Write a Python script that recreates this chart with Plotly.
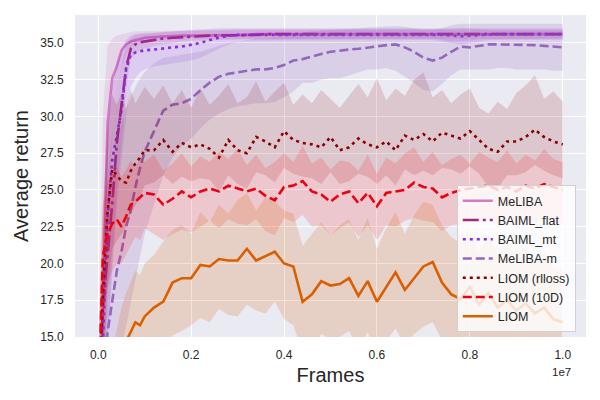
import plotly.graph_objects as go

# frames, in units of 1e7 (the axis carries the "1e7" offset label)
FRAMES = [
    0.0, 0.01, 0.02, 0.03, 0.04, 0.05, 0.06, 0.07, 0.08, 0.09, 0.10,
    0.12, 0.14, 0.16, 0.18, 0.20, 0.22, 0.24, 0.26, 0.28,
    0.30, 0.32, 0.34, 0.36, 0.38, 0.40, 0.42, 0.44, 0.46,
    0.48, 0.50, 0.52, 0.54, 0.56, 0.58, 0.60, 0.62, 0.64,
    0.66, 0.68, 0.70, 0.72, 0.74, 0.76, 0.78, 0.80, 0.82,
    0.84, 0.86, 0.88, 0.90, 0.92, 0.94, 0.96, 0.98, 1.00,
]

# --- MeLIBA ---
MELIBA = [
    5, 18.0, 29.5, 32.6, 33.4, 34.5, 34.9, 35.1, 35.2, 35.3, 35.35,
    35.4, 35.45, 35.45, 35.5, 35.5, 35.5, 35.5, 35.55, 35.55,
    35.55, 35.55, 35.6, 35.6, 35.6, 35.6, 35.6, 35.6, 35.6,
    35.6, 35.6, 35.6, 35.6, 35.6, 35.6, 35.6, 35.6, 35.6,
    35.6, 35.6, 35.6, 35.6, 35.6, 35.6, 35.6, 35.6, 35.6,
    35.6, 35.6, 35.6, 35.6, 35.6, 35.6, 35.6, 35.6, 35.6,
]
MELIBA_HI = [
    10, 30.0, 34.8, 35.3, 35.5, 35.6, 35.7, 35.75, 35.8, 35.8, 35.8,
    35.8, 35.85, 35.85, 35.85, 35.9, 35.9, 35.9, 35.9, 35.9,
    35.9, 35.9, 35.9, 35.9, 35.9, 35.9, 35.9, 35.9, 35.9,
    35.9, 35.9, 35.9, 35.9, 35.9, 35.9, 35.9, 35.9, 35.9,
    35.9, 35.9, 35.9, 35.9, 35.9, 35.9, 35.9, 35.9, 35.9,
    35.9, 35.9, 35.9, 35.9, 35.9, 35.9, 35.9, 35.9, 35.9,
]
MELIBA_LO = [
    2, 8.0, 20.0, 29.0, 31.5, 33.3, 34.2, 34.7, 34.9, 35.0, 35.1,
    35.15, 35.2, 35.2, 35.2, 35.25, 35.25, 35.3, 35.3, 35.3,
    35.3, 35.3, 35.3, 35.3, 35.3, 35.3, 35.3, 35.3, 35.3,
    35.3, 35.3, 35.3, 35.3, 35.3, 35.3, 35.3, 35.3, 35.3,
    35.3, 35.3, 35.3, 35.3, 35.3, 35.3, 35.3, 35.3, 35.3,
    35.3, 35.3, 35.3, 35.3, 35.3, 35.3, 35.3, 35.3, 35.3,
]

# --- BAIML_flat ---
BAIML_FLAT = [
    8, 17.0, 20.5, 24.0, 28.2, 30.8, 33.3, 34.6, 34.9, 35.05, 35.1,
    35.25, 35.3, 35.35, 35.4, 35.45, 35.45, 35.5, 35.5, 35.5,
    35.55, 35.55, 35.55, 35.6, 35.6, 35.6, 35.6, 35.6, 35.6,
    35.6, 35.6, 35.6, 35.6, 35.6, 35.6, 35.6, 35.6, 35.6,
    35.6, 35.6, 35.6, 35.6, 35.6, 35.6, 35.6, 35.6, 35.6,
    35.6, 35.6, 35.6, 35.6, 35.6, 35.6, 35.6, 35.6, 35.6,
]
BAIML_FLAT_HI = [
    10, 22.0, 26.0, 29.0, 31.5, 33.5, 34.8, 35.3, 35.5, 35.6, 35.6,
    35.7, 35.75, 35.8, 35.8, 35.8, 35.85, 35.85, 35.85, 35.9,
    35.9, 35.9, 35.9, 35.9, 35.9, 35.9, 35.9, 35.9, 35.9,
    35.9, 35.9, 35.9, 35.9, 35.9, 35.9, 35.9, 35.9, 35.9,
    35.9, 35.9, 35.9, 35.9, 35.9, 35.95, 36.0, 36.0, 35.95,
    35.9, 35.9, 35.9, 35.9, 35.9, 35.9, 35.9, 35.9, 35.9,
]
BAIML_FLAT_LO = [
    6, 12.0, 15.0, 19.0, 25.0, 28.0, 31.8, 33.9, 34.3, 34.5, 34.6,
    34.8, 34.9, 35.0, 35.1, 35.15, 35.15, 35.2, 35.2, 35.2,
    35.25, 35.25, 35.3, 35.3, 35.3, 35.3, 35.3, 35.3, 35.3,
    35.3, 35.3, 35.3, 35.3, 35.3, 35.3, 35.3, 35.3, 35.3,
    35.3, 35.3, 35.3, 35.3, 35.2, 35.1, 35.1, 35.15, 35.25,
    35.3, 35.3, 35.3, 35.3, 35.3, 35.3, 35.3, 35.3, 35.3,
]

# --- BAIML_mt ---
BAIML_MT = [
    6, 14.0, 23.0, 27.0, 28.8, 30.4, 33.2, 34.2, 34.35, 34.45, 34.5,
    34.55, 34.65, 34.7, 34.75, 34.85, 35.0, 35.2, 35.35, 35.5,
    35.55, 35.55, 35.6, 35.6, 35.6, 35.6, 35.6, 35.6, 35.6,
    35.6, 35.6, 35.6, 35.6, 35.6, 35.6, 35.6, 35.6, 35.6,
    35.6, 35.6, 35.6, 35.6, 35.55, 35.5, 35.45, 35.5, 35.55,
    35.6, 35.6, 35.6, 35.6, 35.6, 35.6, 35.6, 35.6, 35.6,
]
BAIML_MT_HI = [
    9, 20.0, 29.0, 32.0, 33.6, 34.5, 35.2, 35.5, 35.6, 35.65, 35.7,
    35.7, 35.75, 35.75, 35.8, 35.85, 35.9, 35.95, 36.0, 36.0,
    36.0, 36.0, 36.0, 36.0, 36.0, 36.0, 36.0, 36.0, 36.0,
    36.0, 36.0, 36.0, 36.0, 36.0, 36.0, 36.0, 36.0, 36.0,
    36.0, 36.0, 36.0, 36.0, 36.0, 36.0, 36.0, 36.0, 36.0,
    36.0, 36.0, 36.0, 36.0, 36.0, 36.0, 36.0, 36.0, 36.0,
]
BAIML_MT_LO = [
    3, 8.0, 15.0, 20.0, 24.0, 27.0, 30.0, 32.0, 32.6, 33.0, 33.2,
    33.4, 33.5, 33.6, 33.7, 33.8, 34.0, 34.3, 34.6, 34.9,
    35.1, 35.15, 35.2, 35.2, 35.2, 35.2, 35.2, 35.2, 35.2,
    35.2, 35.2, 35.2, 35.2, 35.2, 35.2, 35.2, 35.2, 35.2,
    35.2, 35.2, 35.2, 35.2, 35.1, 35.0, 34.9, 35.0, 35.1,
    35.2, 35.2, 35.2, 35.2, 35.2, 35.2, 35.2, 35.2, 35.2,
]

# --- MeLIBA-m ---
MELIBA_M = [
    5, 12.0, 15.3, 17.5, 19.5, 20.8, 22.5, 23.6, 25.2, 26.5, 27.6,
    29.0, 30.4, 30.8, 30.9, 31.2, 31.8, 32.3, 32.7, 32.9,
    33.0, 33.1, 33.2, 33.2, 33.3, 33.5, 33.8, 33.9, 34.1,
    34.25, 34.4, 34.5, 34.55, 34.6, 34.7, 34.75, 34.85, 34.9,
    34.7, 34.4, 34.0, 33.8, 34.0, 34.4, 34.75, 34.7, 34.8,
    34.9, 34.9, 34.9, 34.9, 34.85, 34.85, 34.8, 34.75, 34.7,
]
MELIBA_M_HI = [
    8, 19.0, 23.0, 26.0, 28.0, 29.5, 30.5, 31.3, 32.0, 32.6, 33.0,
    33.6, 34.0, 34.1, 34.2, 34.3, 34.4, 34.6, 34.8, 35.0,
    35.1, 35.2, 35.3, 35.3, 35.4, 35.5, 35.6, 35.7, 35.8,
    35.85, 35.9, 35.95, 36.0, 36.0, 36.05, 36.1, 36.1, 36.15,
    36.1, 36.0, 35.9, 35.9, 36.0, 36.2, 36.3, 36.3, 36.3,
    36.3, 36.3, 36.3, 36.3, 36.3, 36.3, 36.3, 36.3, 36.3,
]
MELIBA_M_LO = [
    2, 6.0, 9.0, 11.0, 13.0, 14.5, 16.0, 17.5, 19.0, 20.5, 22.0,
    24.0, 26.0, 27.2, 28.0, 28.5, 29.2, 29.8, 30.2, 30.5,
    30.7, 30.8, 30.9, 30.9, 31.0, 31.3, 31.7, 32.3, 32.3,
    32.5, 32.6, 32.6, 32.8, 33.0, 33.2, 33.2, 33.3, 33.1,
    32.7, 32.3, 31.8, 31.7, 32.2, 32.8, 33.2, 33.2, 33.2,
    33.2, 33.3, 33.3, 33.2, 33.2, 33.2, 33.2, 33.1, 33.1,
]

# --- LIOM (rlloss) ---
LIOM_RLLOSS = [
    10, 18.0, 23.5, 26.4, 26.0, 25.6, 25.5, 26.3, 26.8, 27.2, 27.7,
    27.7, 28.4, 27.6, 28.2, 27.9, 28.1, 27.8, 27.2, 28.4,
    27.7, 27.5, 28.6, 28.3, 27.9, 29.0, 28.4, 28.2, 28.1,
    27.9, 28.6, 27.7, 27.9, 28.5, 28.1, 27.9, 28.3, 27.7,
    28.7, 28.4, 28.8, 28.3, 28.9, 28.7, 28.5, 29.0, 28.4,
    27.8, 27.6, 28.3, 28.3, 28.6, 29.1, 28.6, 28.3, 28.1,
]
LIOM_RLLOSS_HI = [
    14, 24.0, 29.0, 31.5, 30.8, 31.6, 30.5, 31.8, 30.9, 31.5, 32.0,
    31.2, 32.1, 30.9, 31.8, 30.6, 31.9, 30.8, 31.4, 32.2,
    30.9, 31.3, 32.4, 31.0, 31.7, 32.3, 30.8, 31.5, 30.9,
    31.8, 31.2, 30.6, 31.4, 32.2, 31.3, 32.6, 31.1, 31.9,
    31.4, 32.5, 33.0, 31.3, 31.8, 30.9, 31.5, 31.9, 30.6,
    30.2, 31.0, 30.5, 31.6, 32.1, 32.8, 31.2, 31.7, 31.0,
]
LIOM_RLLOSS_LO = [
    6, 13.0, 18.0, 21.0, 21.5, 22.0, 22.5, 23.4, 23.9, 24.5, 25.3,
    25.5, 26.0, 25.4, 25.9, 25.6, 25.8, 25.7, 24.9, 26.0,
    25.4, 25.1, 26.2, 26.0, 25.5, 26.5, 26.1, 25.9, 25.8,
    25.4, 26.2, 25.4, 25.6, 26.1, 25.9, 25.4, 26.0, 25.3,
    26.4, 26.0, 26.3, 26.0, 26.5, 26.4, 26.1, 26.6, 26.1,
    25.2, 25.1, 26.0, 26.0, 26.2, 26.7, 26.3, 26.0, 25.8,
]

# --- LIOM (10D) ---
LIOM_10D = [
    10, 20.5, 22.0, 22.7, 23.0, 22.5, 23.2, 24.0, 24.2, 24.5, 24.8,
    24.7, 24.0, 24.4, 24.9, 24.5, 24.9, 25.1, 24.9, 25.3,
    25.1, 24.9, 25.1, 24.6, 24.3, 25.2, 25.3, 25.6, 24.9,
    24.7, 24.2, 24.7, 24.9, 24.1, 24.8, 23.9, 24.8, 24.9,
    25.0, 25.5, 25.2, 25.1, 24.5, 24.8, 25.0, 25.1, 25.2,
    25.3, 25.0, 25.2, 24.9, 25.3, 25.1, 25.4, 25.2, 25.0,
]
LIOM_10D_HI = [
    13, 24.0, 25.5, 26.2, 26.6, 25.9, 26.4, 27.0, 26.5, 27.2, 26.9,
    27.4, 26.3, 26.8, 27.5, 26.6, 27.3, 26.9, 27.6, 27.1,
    27.8, 26.7, 27.4, 26.5, 26.9, 27.5, 26.9, 28.0, 26.8,
    27.2, 26.4, 27.0, 26.9, 26.3, 27.4, 26.1, 27.2, 26.8,
    27.5, 27.9, 26.9, 27.6, 26.7, 27.1, 27.4, 26.8, 27.6,
    27.2, 26.9, 27.7, 26.8, 27.4, 27.0, 27.8, 27.1, 26.9,
]
LIOM_10D_LO = [
    7, 16.0, 18.5, 19.5, 20.0, 20.0, 20.6, 21.2, 21.8, 21.6, 22.4,
    22.0, 21.6, 22.0, 22.3, 22.1, 22.5, 22.9, 22.4, 23.0,
    22.7, 22.6, 23.0, 22.2, 21.9, 23.1, 22.8, 23.3, 22.5,
    22.6, 21.9, 22.4, 22.8, 21.8, 22.6, 21.6, 22.6, 22.5,
    22.9, 23.1, 22.9, 22.8, 22.2, 22.6, 22.7, 22.9, 22.8,
    23.1, 22.6, 22.9, 22.5, 23.0, 22.8, 23.1, 22.8, 22.7,
]

# --- LIOM ---
LIOM = [
    5, 7.0, 9.0, 10.5, 12.0, 13.5, 14.7, 15.3, 16.0, 15.8, 16.4,
    17.0, 17.4, 18.7, 19.0, 19.0, 19.9, 19.8, 20.3, 20.2,
    20.2, 21.0, 20.2, 20.5, 20.8, 20.0, 19.8, 17.4, 17.9,
    18.8, 18.5, 18.6, 19.0, 17.8, 18.8, 17.4, 18.4, 19.4,
    18.2, 19.0, 19.8, 20.1, 18.7, 17.9, 17.6, 18.4, 17.2,
    18.0, 17.0, 17.5, 16.8, 17.3, 16.6, 17.0, 16.2, 16.0,
]
LIOM_HI = [
    7, 10.0, 12.0, 14.0, 15.5, 17.0, 18.0, 18.8, 19.5, 19.2, 20.0,
    20.6, 21.5, 22.3, 22.6, 22.0, 23.5, 22.8, 24.0, 23.4,
    24.3, 24.8, 23.6, 24.5, 24.2, 23.6, 23.4, 21.2, 22.0,
    22.8, 21.9, 22.6, 23.0, 21.6, 23.1, 21.0, 22.4, 23.5,
    22.0, 23.3, 24.2, 24.0, 22.6, 21.8, 21.4, 22.3, 20.8,
    22.0, 20.6, 21.4, 20.5, 21.2, 20.1, 20.8, 19.8, 19.6,
]
LIOM_LO = [
    3, 4.0, 6.0, 7.0, 8.5, 10.0, 11.4, 11.8, 12.5, 12.4, 12.8,
    13.4, 13.3, 15.1, 15.4, 15.8, 16.3, 16.0, 16.9, 16.5,
    16.4, 17.2, 16.8, 16.6, 17.4, 16.2, 15.8, 13.9, 14.0,
    15.2, 14.8, 15.0, 15.4, 14.2, 15.3, 13.6, 14.7, 15.6,
    14.4, 15.2, 15.7, 16.0, 14.8, 14.0, 13.6, 14.5, 13.5,
    14.2, 13.3, 13.7, 13.0, 13.5, 12.9, 13.3, 12.5, 12.4,
]

Y_TICKS = [15.0, 17.5, 20.0, 22.5, 25.0, 27.5, 30.0, 32.5, 35.0]
X_TICKS = [0.0, 0.2, 0.4, 0.6, 0.8, 1.0]

# name, mean, upper, lower, line colour, band colour, dash
SERIES = [
    ("MeLIBA", MELIBA, MELIBA_HI, MELIBA_LO, "#d17cc4", "rgba(209,124,196,0.2)", "solid"),
    ("BAIML_flat", BAIML_FLAT, BAIML_FLAT_HI, BAIML_FLAT_LO, "#a3287f", "rgba(163,40,127,0.12)", "16px,4px,3px,4px"),
    ("BAIML_mt", BAIML_MT, BAIML_MT_HI, BAIML_MT_LO, "#8a2be2", "rgba(138,43,226,0.15)", "3px,4px"),
    ("MeLIBA-m", MELIBA_M, MELIBA_M_HI, MELIBA_M_LO, "#9467bd", "rgba(148,103,189,0.2)", "9px,4px"),
    ("LIOM (rlloss)", LIOM_RLLOSS, LIOM_RLLOSS_HI, LIOM_RLLOSS_LO, "#8b0000", "rgba(139,0,0,0.15)", "3px,4px"),
    ("LIOM (10D)", LIOM_10D, LIOM_10D_HI, LIOM_10D_LO, "#ee0011", "rgba(255,0,0,0.15)", "9px,4px"),
    ("LIOM", LIOM, LIOM_HI, LIOM_LO, "#d95f02", "rgba(217,95,2,0.18)", "solid"),
]

for name, mean, hi, lo, _, _, _ in SERIES:
    assert len(mean) == len(hi) == len(lo) == len(FRAMES), name

TEXT = "#262626"
FONT = "Liberation Sans, Arial, sans-serif"

fig = go.Figure()

for name, mean, hi, lo, color, band, dash in SERIES:
    # shaded spread, drawn as one closed polygon
    fig.add_trace(
        go.Scatter(
            x=FRAMES + FRAMES[::-1],
            y=hi + lo[::-1],
            fill="toself",
            fillcolor=band,
            line=dict(width=0),
            mode="lines",
            hoverinfo="skip",
            showlegend=False,
            legendgroup=name,
        )
    )
    fig.add_trace(
        go.Scatter(
            x=FRAMES,
            y=mean,
            mode="lines",
            name=name,
            legendgroup=name,
            line=dict(color=color, width=2.6, dash=dash),
        )
    )

# the page body keeps its 8px default margin, so the figure is 8px smaller
fig.update_layout(
    width=592,
    height=392,
    margin=dict(l=67, r=14, t=7, b=63),
    paper_bgcolor="white",
    plot_bgcolor="#eaeaf2",
    font=dict(family=FONT, color=TEXT, size=12),
    legend=dict(
        x=0.98,
        y=0.015,
        xanchor="right",
        yanchor="bottom",
        bgcolor="rgba(255,255,255,0.8)",
        bordercolor="#d0d0d0",
        borderwidth=1,
        font=dict(size=12.5, color=TEXT),
        tracegroupgap=0,
    ),
    annotations=[
        dict(
            text="1e7",
            x=0.975,
            y=-0.108,
            xref="paper",
            yref="paper",
            xanchor="right",
            yanchor="middle",
            showarrow=False,
            font=dict(size=11.5, color=TEXT),
        )
    ],
)

fig.update_xaxes(
    range=[-0.05, 1.05],
    tickvals=X_TICKS,
    tickformat=".1f",
    showgrid=True,
    gridcolor="white",
    gridwidth=1.2,
    zeroline=False,
    showline=False,
    ticks="outside",
    ticklen=7,
    tickcolor="rgba(0,0,0,0)",
    automargin=False,
    tickfont=dict(size=12, color=TEXT),
    title=dict(text="Frames", font=dict(size=20, color=TEXT), standoff=6),
)
fig.update_yaxes(
    range=[15, 36.9],
    tickvals=Y_TICKS,
    tickformat=".1f",
    showgrid=True,
    gridcolor="white",
    gridwidth=1.2,
    zeroline=False,
    showline=False,
    ticks="outside",
    ticklen=8,
    tickcolor="rgba(0,0,0,0)",
    automargin=False,
    tickfont=dict(size=12, color=TEXT),
    title=dict(text="Average return", font=dict(size=20, color=TEXT), standoff=6),
)

fig.write_html("out.html")
